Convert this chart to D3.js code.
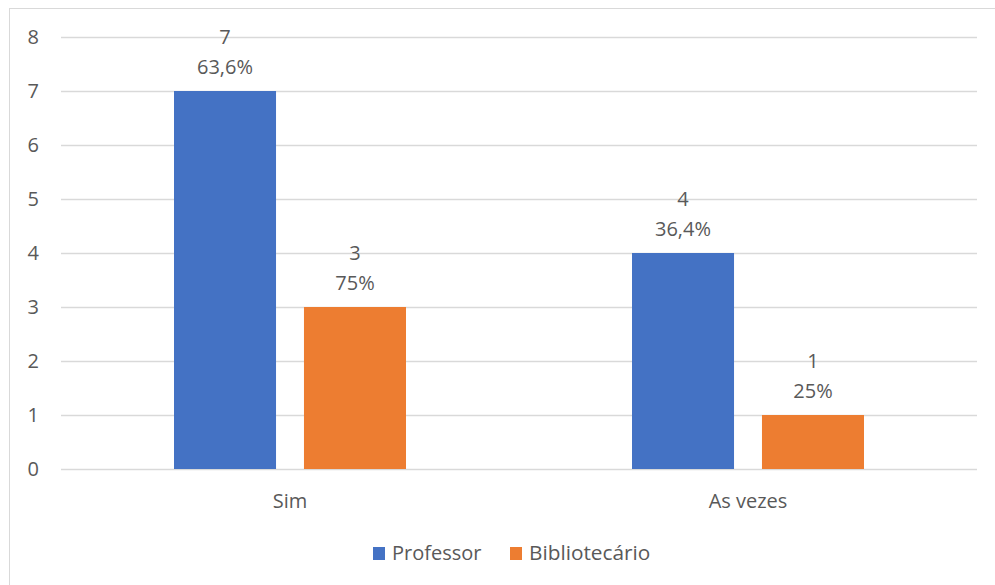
<!DOCTYPE html>
<html><head><meta charset="utf-8">
<script src="https://cdn.jsdelivr.net/npm/d3@7/dist/d3.min.js"></script>
<style>body{margin:0;background:#fff}svg{display:block}text{font-family:"Open Sans",sans-serif;fill:#595959}</style>
</head><body>
<svg id="c" width="995" height="585"></svg>
<script>
const categories = ["Sim", "As vezes"];
const seriesNames = ["Professor", "Bibliotecário"];
const professor = [7, 4];
const bibliotecario = [3, 1];
const profPct = ["63,6%", "36,4%"];
const bibPct = ["75%", "25%"];
const yTicks = [0,1,2,3,4,5,6,7,8];
const colors = ["#4472C4", "#ED7D31"];

(function(){
const svg = d3.select("#c");
const fs = 20;
svg.append("rect").attr("x",9.5).attr("y",8.5).attr("width",1000).attr("height",600)
  .attr("fill","#fff").attr("stroke","#D9D9D9");

const pL=61, pR=977, pT=37, pB=469;
const x0 = d3.scaleBand().domain(categories).range([pL,pR]);
const x1 = d3.scaleBand().domain(seriesNames).range([x0.bandwidth()/2-116, x0.bandwidth()/2+116]).paddingInner(0.215);
const y = d3.scaleLinear().domain([0,8]).range([pB,pT]);

const g = svg.append("g");
yTicks.forEach(t=>{
  g.append("line").attr("x1",pL).attr("x2",pR).attr("y1",y(t)+0.5).attr("y2",y(t)+0.5)
    .attr("stroke","#D9D9D9").attr("stroke-width",1.3);
  g.append("text").attr("x",39).attr("y",y(t)).attr("dy","0.36em").attr("text-anchor","end")
    .attr("font-size",fs).text(t);
});

const series = [professor, bibliotecario];
const pcts = [profPct, bibPct];
categories.forEach((c,ci)=>{
  seriesNames.forEach((s,si)=>{
    const v = series[si][ci];
    const bx = x0(c)+x1(s);
    g.append("rect").attr("x",bx).attr("y",y(v)).attr("width",x1.bandwidth()).attr("height",y(0)-y(v))
      .attr("fill",colors[si]);
    const cx = bx + x1.bandwidth()/2;
    g.append("text").attr("x",cx).attr("y",y(v)-47).attr("text-anchor","middle").attr("font-size",fs).text(v);
    g.append("text").attr("x",cx).attr("y",y(v)-17).attr("text-anchor","middle").attr("font-size",fs).text(pcts[si][ci]);
  });
  g.append("text").attr("x",x0(c)+x0.bandwidth()/2).attr("y",508).attr("text-anchor","middle")
    .attr("font-size",fs).text(c);
});

const legX = [373, 510];
seriesNames.forEach((s,i)=>{
  g.append("rect").attr("x",legX[i]).attr("y",547).attr("width",12).attr("height",13).attr("fill",colors[i]);
  g.append("text").attr("x",legX[i]+19).attr("y",560).attr("font-size",fs + (i===1?0.8:0)).text(s);
});
})();
</script>
</body></html>
